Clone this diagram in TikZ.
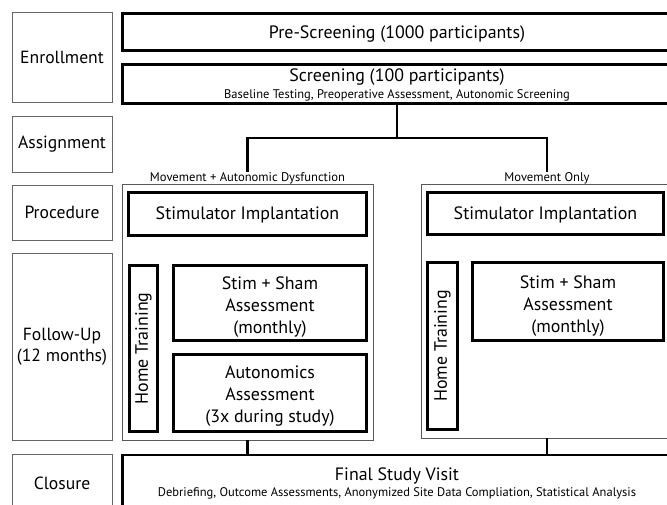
\documentclass[tikz,border=0pt]{standalone}
\usepackage{fontspec}
\setmainfont{PT Sans}
\newcommand\lowered[2]{\raisebox{-#1}[\height][\depth]{#2}}
\newcommand\lines[1]{\begin{tabular}{@{}c@{}}#1\end{tabular}}
\begin{document}
\begin{tikzpicture}[x=1pt,y=-1pt,
  lab/.style={draw=gray!80!black,line width=0.9pt,rectangle,inner sep=0pt,align=center,font=\fontsize{17.6}{21}\selectfont},
  tbox/.style={draw=black,line width=2.8pt,rectangle,inner sep=0pt,align=center,font=\fontsize{17.9}{22}\selectfont},
  grp/.style={draw=gray!70!black,line width=0.9pt,rectangle,inner sep=0pt},
  glab/.style={inner sep=0pt,font=\fontsize{12.6}{13}\selectfont},
  conn/.style={draw=black,line width=2.8pt}]
\useasboundingbox (0,0) rectangle (667,504);
\clip (0,0) rectangle (667,504);
% stage labels
\node[lab,minimum width=100,minimum height=90] (enr) at (62,57.5) {Enrollment};
\node[lab,minimum width=100,minimum height=56] (asg) at (62,144) {Assignment};
\node[lab,minimum width=100,minimum height=55] (proc) at (62,212.5) {Procedure};
\node[lab,minimum width=100,minimum height=187] (fol) at (62,346.5) {Follow-Up\\(12 months)};
\node[lab,minimum width=100,minimum height=58] (clo) at (62,483) {Closure};
% enrollment boxes
\node[tbox,minimum width=549,minimum height=37] (pre) at (397,32) {\lowered{2pt}{Pre-Screening (1000 participants)}};
\node[tbox,minimum width=549,minimum height=37] (scr) at (397,84) {\lowered{2pt}{\begin{tabular}{@{}c@{}}Screening (100 participants)\\[-5pt]{\fontsize{12.5}{13}\selectfont Baseline Testing, Preoperative Assessment, Autonomic Screening}\end{tabular}}};
% groups
\node[grp,minimum width=251,minimum height=256] (gL) at (247.5,312) {};
\node[grp,minimum width=252,minimum height=254] (gR) at (547,311) {};
\node[glab,anchor=base] (labL) at (247.5,181) {Movement + Autonomic Dysfunction};
\node[glab,anchor=base] (labR) at (547,181) {Movement Only};
% left group contents
\node[tbox,minimum width=238,minimum height=43] (stL) at (247.5,214) {\lowered{1pt}{Stimulator Implantation}};
\node[tbox,rotate=90,minimum width=166,minimum height=28] (htL) at (143.5,348.5) {Home Training};
\node[tbox,minimum width=193,minimum height=75] (ssL) at (270,303) {\lowered{4pt}{\lines{Stim + Sham\\Assessment\\(monthly)}}};
\node[tbox,minimum width=193,minimum height=77] (auL) at (270,393) {\lowered{3.5pt}{\lines{Autonomics\\Assessment\\(3x during study)}}};
% right group contents
\node[tbox,minimum width=236,minimum height=42] (stR) at (545.5,213.5) {\lowered{1pt}{Stimulator Implantation}};
\node[tbox,rotate=90,minimum width=167,minimum height=30] (htR) at (442.5,346) {Home Training};
\node[tbox,minimum width=191,minimum height=78] (ssR) at (568,301.5) {\lowered{4.5pt}{\lines{Stim + Sham\\Assessment\\(monthly)}}};
% closure
\node[tbox,minimum width=549,minimum height=60] (fin) at (397,485) {\lowered{-1pt}{\begin{tabular}{@{}c@{}}Final Study Visit\\[-6pt]{\fontsize{12.5}{13}\selectfont Debriefing, Outcome Assessments, Anonymized Site Data Compliation, Statistical Analysis}\end{tabular}}};
% connectors
\coordinate (split) at (397,138);
\draw[conn] (scr.south) -- (split);
\draw[conn] (labL.north) |- (split) -| (labR.north);
\draw[conn] (gL.south) -- (gL.south |- fin.north);
\draw[conn] (gR.south) -- (gR.south |- fin.north);
\end{tikzpicture}
\end{document}
